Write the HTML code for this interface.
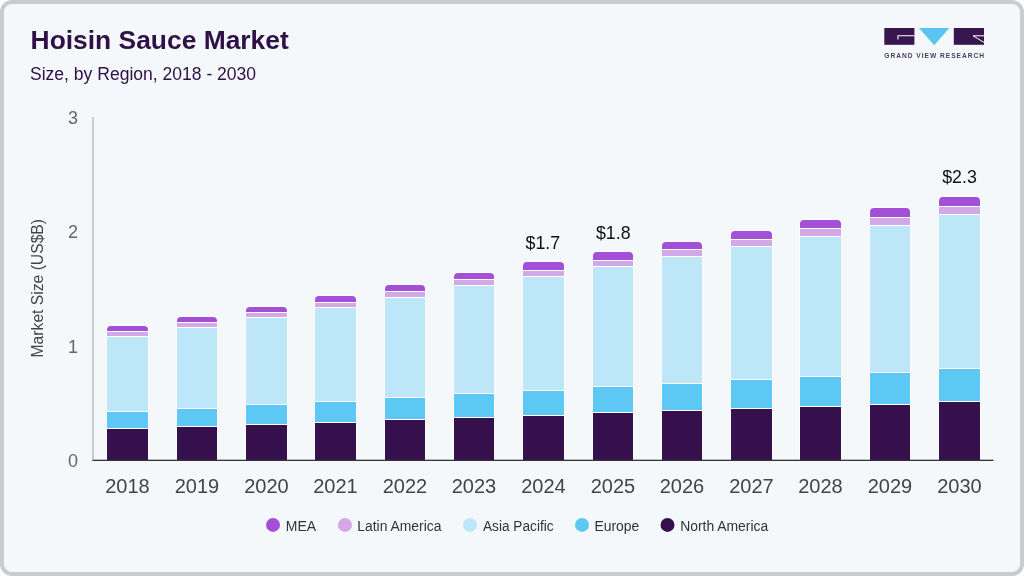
<!DOCTYPE html>
<html lang="en"><head><meta charset="utf-8"><title>Hoisin Sauce Market</title>
<style>
html,body{margin:0;padding:0;background:#fff;}
body{width:1024px;height:576px;overflow:hidden;font-family:"Liberation Sans",Arial,sans-serif;}
#card{position:absolute;left:0;top:0;width:1016px;height:568px;border:4px solid #c9cccc;border-radius:12px;background:#f5f8fb;}
svg{position:absolute;left:0;top:0;}
text{font-family:"Liberation Sans",Arial,sans-serif;}
</style></head><body>
<div id="card"></div>
<svg width="1024" height="576" viewBox="0 0 1024 576">

<text x="30.6" y="48.5" font-size="26.4" font-weight="bold" fill="#2e1146">Hoisin Sauce Market</text>
<text x="30" y="79.8" font-size="17.55" fill="#2e1146">Size, by Region, 2018 - 2030</text>
<g id="logo">
<rect x="884.3" y="28" width="30.1" height="16.8" fill="#381650"/>
<path d="M914.4 35.8H897.9V39.4" fill="none" stroke="#fff" stroke-width="1.1"/>
<path d="M918.9 28H949.4L934.2 45.2Z" fill="#5bc5f1"/>
<rect x="953.8" y="28" width="30.2" height="16.8" fill="#381650"/>
<path d="M984 35.8H973L984 42.4" fill="none" stroke="#fff" stroke-width="1"/>
<text x="884.3" y="57.6" font-size="6.6" font-weight="bold" fill="#4b3b5c" textLength="99.7" lengthAdjust="spacing">GRAND VIEW RESEARCH</text>
</g>
<rect x="92" y="117" width="2" height="343.5" fill="#c9cdd1"/>
<text x="78" y="123.8" font-size="18" fill="#666" text-anchor="end">3</text>
<text x="78" y="238.2" font-size="18" fill="#666" text-anchor="end">2</text>
<text x="78" y="352.6" font-size="18" fill="#666" text-anchor="end">1</text>
<text x="78" y="466.9" font-size="18" fill="#666" text-anchor="end">0</text>
<text transform="translate(42.9,288.2) rotate(-90)" font-size="16.9" fill="#444" text-anchor="middle" textLength="138.5" lengthAdjust="spacingAndGlyphs">Market Size (US$B)</text>
<path d="M106.4 460 V330 Q106.4 325.4 111 325.4 H144 Q148.6 325.4 148.6 330 V460 Z" fill="#fff"/>
<path d="M107 331 V330 Q107 326 111 326 H144 Q148 326 148 330 V331 Z" fill="#a44fd8"/>
<rect x="107" y="332" width="41" height="4" fill="#d3a8e6"/>
<rect x="107" y="337" width="41" height="74" fill="#bde7f9"/>
<rect x="107" y="412" width="41" height="16" fill="#5cc8f3"/>
<rect x="107" y="429" width="41" height="31" fill="#35104c"/>
<path d="M176.4 460 V321 Q176.4 316.4 181 316.4 H213 Q217.6 316.4 217.6 321 V460 Z" fill="#fff"/>
<path d="M177 322 V321 Q177 317 181 317 H213 Q217 317 217 321 V322 Z" fill="#a44fd8"/>
<rect x="177" y="323" width="40" height="4" fill="#d3a8e6"/>
<rect x="177" y="328" width="40" height="80" fill="#bde7f9"/>
<rect x="177" y="409" width="40" height="17" fill="#5cc8f3"/>
<rect x="177" y="427" width="40" height="33" fill="#35104c"/>
<path d="M245.4 460 V311 Q245.4 306.4 250 306.4 H283 Q287.6 306.4 287.6 311 V460 Z" fill="#fff"/>
<path d="M246 312 V311 Q246 307 250 307 H283 Q287 307 287 311 V312 Z" fill="#a44fd8"/>
<rect x="246" y="313" width="41" height="4" fill="#d3a8e6"/>
<rect x="246" y="318" width="41" height="86" fill="#bde7f9"/>
<rect x="246" y="405" width="41" height="19" fill="#5cc8f3"/>
<rect x="246" y="425" width="41" height="35" fill="#35104c"/>
<path d="M314.4 460 V300 Q314.4 295.4 319 295.4 H352 Q356.6 295.4 356.6 300 V460 Z" fill="#fff"/>
<path d="M315 302 V300 Q315 296 319 296 H352 Q356 296 356 300 V302 Z" fill="#a44fd8"/>
<rect x="315" y="303" width="41" height="4" fill="#d3a8e6"/>
<rect x="315" y="308" width="41" height="93" fill="#bde7f9"/>
<rect x="315" y="402" width="41" height="20" fill="#5cc8f3"/>
<rect x="315" y="423" width="41" height="37" fill="#35104c"/>
<path d="M384.4 460 V289 Q384.4 284.4 389 284.4 H421 Q425.6 284.4 425.6 289 V460 Z" fill="#fff"/>
<path d="M385 291 V289 Q385 285 389 285 H421 Q425 285 425 289 V291 Z" fill="#a44fd8"/>
<rect x="385" y="292" width="40" height="5" fill="#d3a8e6"/>
<rect x="385" y="298" width="40" height="99" fill="#bde7f9"/>
<rect x="385" y="398" width="40" height="21" fill="#5cc8f3"/>
<rect x="385" y="420" width="40" height="40" fill="#35104c"/>
<path d="M453.4 460 V277 Q453.4 272.4 458 272.4 H490 Q494.6 272.4 494.6 277 V460 Z" fill="#fff"/>
<path d="M454 279 V277 Q454 273 458 273 H490 Q494 273 494 277 V279 Z" fill="#a44fd8"/>
<rect x="454" y="280" width="40" height="5" fill="#d3a8e6"/>
<rect x="454" y="286" width="40" height="107" fill="#bde7f9"/>
<rect x="454" y="394" width="40" height="23" fill="#5cc8f3"/>
<rect x="454" y="418" width="40" height="42" fill="#35104c"/>
<path d="M522.4 460 V266 Q522.4 261.4 527 261.4 H560 Q564.6 261.4 564.6 266 V460 Z" fill="#fff"/>
<path d="M523 270 V266 Q523 262 527 262 H560 Q564 262 564 266 V270 Z" fill="#a44fd8"/>
<rect x="523" y="271" width="41" height="5" fill="#d3a8e6"/>
<rect x="523" y="277" width="41" height="113" fill="#bde7f9"/>
<rect x="523" y="391" width="41" height="24" fill="#5cc8f3"/>
<rect x="523" y="416" width="41" height="44" fill="#35104c"/>
<path d="M592.4 460 V256 Q592.4 251.4 597 251.4 H629 Q633.6 251.4 633.6 256 V460 Z" fill="#fff"/>
<path d="M593 260 V256 Q593 252 597 252 H629 Q633 252 633 256 V260 Z" fill="#a44fd8"/>
<rect x="593" y="261" width="40" height="5" fill="#d3a8e6"/>
<rect x="593" y="267" width="40" height="119" fill="#bde7f9"/>
<rect x="593" y="387" width="40" height="25" fill="#5cc8f3"/>
<rect x="593" y="413" width="40" height="47" fill="#35104c"/>
<path d="M661.4 460 V246 Q661.4 241.4 666 241.4 H698 Q702.6 241.4 702.6 246 V460 Z" fill="#fff"/>
<path d="M662 249 V246 Q662 242 666 242 H698 Q702 242 702 246 V249 Z" fill="#a44fd8"/>
<rect x="662" y="250" width="40" height="6" fill="#d3a8e6"/>
<rect x="662" y="257" width="40" height="126" fill="#bde7f9"/>
<rect x="662" y="384" width="40" height="26" fill="#5cc8f3"/>
<rect x="662" y="411" width="40" height="49" fill="#35104c"/>
<path d="M730.4 460 V235 Q730.4 230.4 735 230.4 H768 Q772.6 230.4 772.6 235 V460 Z" fill="#fff"/>
<path d="M731 239 V235 Q731 231 735 231 H768 Q772 231 772 235 V239 Z" fill="#a44fd8"/>
<rect x="731" y="240" width="41" height="6" fill="#d3a8e6"/>
<rect x="731" y="247" width="41" height="132" fill="#bde7f9"/>
<rect x="731" y="380" width="41" height="28" fill="#5cc8f3"/>
<rect x="731" y="409" width="41" height="51" fill="#35104c"/>
<path d="M799.4 460 V224 Q799.4 219.4 804 219.4 H837 Q841.6 219.4 841.6 224 V460 Z" fill="#fff"/>
<path d="M800 228 V224 Q800 220 804 220 H837 Q841 220 841 224 V228 Z" fill="#a44fd8"/>
<rect x="800" y="229" width="41" height="7" fill="#d3a8e6"/>
<rect x="800" y="237" width="41" height="139" fill="#bde7f9"/>
<rect x="800" y="377" width="41" height="29" fill="#5cc8f3"/>
<rect x="800" y="407" width="41" height="53" fill="#35104c"/>
<path d="M869.4 460 V212 Q869.4 207.4 874 207.4 H906 Q910.6 207.4 910.6 212 V460 Z" fill="#fff"/>
<path d="M870 217 V212 Q870 208 874 208 H906 Q910 208 910 212 V217 Z" fill="#a44fd8"/>
<rect x="870" y="218" width="40" height="7" fill="#d3a8e6"/>
<rect x="870" y="226" width="40" height="146" fill="#bde7f9"/>
<rect x="870" y="373" width="40" height="31" fill="#5cc8f3"/>
<rect x="870" y="405" width="40" height="55" fill="#35104c"/>
<path d="M938.4 460 V201 Q938.4 196.4 943 196.4 H976 Q980.6 196.4 980.6 201 V460 Z" fill="#fff"/>
<path d="M939 206 V201 Q939 197 943 197 H976 Q980 197 980 201 V206 Z" fill="#a44fd8"/>
<rect x="939" y="207" width="41" height="7" fill="#d3a8e6"/>
<rect x="939" y="215" width="41" height="153" fill="#bde7f9"/>
<rect x="939" y="369" width="41" height="32" fill="#5cc8f3"/>
<rect x="939" y="402" width="41" height="58" fill="#35104c"/>
<rect x="92.5" y="459.7" width="901" height="1.3" fill="#333"/>
<text x="127.5" y="492.7" font-size="20" fill="#444" text-anchor="middle">2018</text>
<text x="197.0" y="492.7" font-size="20" fill="#444" text-anchor="middle">2019</text>
<text x="266.5" y="492.7" font-size="20" fill="#444" text-anchor="middle">2020</text>
<text x="335.5" y="492.7" font-size="20" fill="#444" text-anchor="middle">2021</text>
<text x="405.0" y="492.7" font-size="20" fill="#444" text-anchor="middle">2022</text>
<text x="474.0" y="492.7" font-size="20" fill="#444" text-anchor="middle">2023</text>
<text x="543.5" y="492.7" font-size="20" fill="#444" text-anchor="middle">2024</text>
<text x="613.0" y="492.7" font-size="20" fill="#444" text-anchor="middle">2025</text>
<text x="682.0" y="492.7" font-size="20" fill="#444" text-anchor="middle">2026</text>
<text x="751.5" y="492.7" font-size="20" fill="#444" text-anchor="middle">2027</text>
<text x="820.5" y="492.7" font-size="20" fill="#444" text-anchor="middle">2028</text>
<text x="890.0" y="492.7" font-size="20" fill="#444" text-anchor="middle">2029</text>
<text x="959.5" y="492.7" font-size="20" fill="#444" text-anchor="middle">2030</text>
<text x="542.9" y="248.8" font-size="17.8" fill="#111" text-anchor="middle">$1.7</text>
<text x="613.3" y="238.6" font-size="17.8" fill="#111" text-anchor="middle">$1.8</text>
<text x="959.5" y="183.0" font-size="17.8" fill="#111" text-anchor="middle">$2.3</text>
<circle cx="273" cy="524.9" r="7" fill="#a44fd8"/>
<text x="285.8" y="530.9" font-size="15.5" fill="#333" textLength="30.3" lengthAdjust="spacingAndGlyphs">MEA</text>
<circle cx="345" cy="524.9" r="7" fill="#d3a8e6"/>
<text x="357.3" y="530.9" font-size="15.5" fill="#333" textLength="84.2" lengthAdjust="spacingAndGlyphs">Latin America</text>
<circle cx="470" cy="524.9" r="7" fill="#bde7f9"/>
<text x="483" y="530.9" font-size="15.5" fill="#333" textLength="70.6" lengthAdjust="spacingAndGlyphs">Asia Pacific</text>
<circle cx="582" cy="524.9" r="7" fill="#5cc8f3"/>
<text x="594.5" y="530.9" font-size="15.5" fill="#333" textLength="44.8" lengthAdjust="spacingAndGlyphs">Europe</text>
<circle cx="667.5" cy="524.9" r="7" fill="#35104c"/>
<text x="680.2" y="530.9" font-size="15.5" fill="#333" textLength="88.0" lengthAdjust="spacingAndGlyphs">North America</text>
</svg></body></html>
